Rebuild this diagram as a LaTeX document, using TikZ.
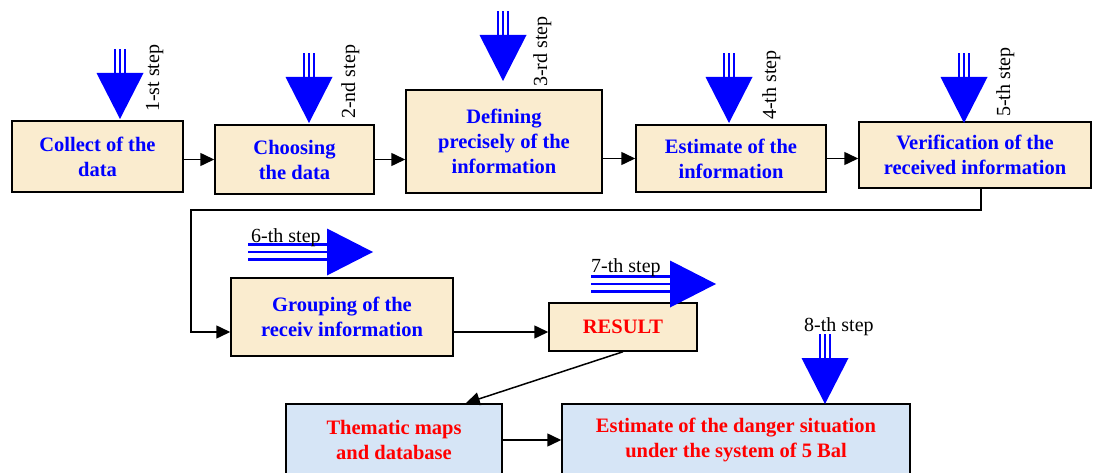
\documentclass[tikz,border=0pt]{standalone}
\usepackage{fontspec}
\setmainfont{Liberation Serif}
\usetikzlibrary{arrows.meta}
\definecolor{beige}{RGB}{250,236,207}
\definecolor{paleblue}{RGB}{214,229,246}
\tikzset{
  box/.style={draw, line width=1.5pt, fill=beige, text=blue, align=center, inner sep=0pt,
    font=\bfseries\fontsize{20.5}{25}\selectfont},
  mapbox/.style={box, fill=paleblue, text=red},
  conn/.style={line width=1.5pt, -{Triangle[length=14pt,width=13pt]}},
  steptext/.style={font=\fontsize{20}{24}\selectfont, inner sep=0pt},
  % gros fleche bleue vers le bas (pointe en (0,0))
  downstep/.pic={
    \fill[blue] (-23.5,-46) -- (23.5,-46) -- (0,0) -- cycle;
    \foreach \d in {-5,0,5} \draw[blue, line width=2.5pt] (\d,-45.5) -- (\d,-70);
  },
  % gros fleche bleue vers la droite
  rightstep/.pic={
    \fill[blue] (-46,-23.5) -- (-46,23.5) -- (0,0) -- cycle;
    \foreach \d in {-7.5,0,7.5} \draw[blue, line width=2.5pt] (-45.5,\d) -- (-125,\d);
  }
}
\begin{document}
\begin{tikzpicture}[x=1pt, y=-1pt]
    \useasboundingbox (0,0) rectangle (1094,473);
    \clip (0,0) rectangle (1094,473);

    % Premiere rangee
    \node[box, minimum width=171pt, minimum height=71pt] (collect) at (97.5,156.5) {Collect of the\\data};
    \node[box, minimum width=159pt, minimum height=69pt] (choosing) at (294.5,159.5) {Choosing\\the data};
    \node[box, minimum width=196pt, minimum height=103pt] (defining) at (504,141.5) {Defining\\precisely of the\\information};
    \node[box, minimum width=190pt, minimum height=67pt] (estimate) at (731,158.5) {Estimate of the\\information};
    \node[box, minimum width=232pt, minimum height=66pt] (verif) at (975,155) {Verification of the\\received information};

    \draw[conn] (collect.east |- choosing.west) -- (choosing.west);
    \draw[conn] (choosing.east) -- (choosing.east -| defining.west);
    \draw[conn] (defining.east |- estimate.west) -- (estimate.west);
    \draw[conn] (estimate.east) -- (estimate.east -| verif.west);

    % Etapes 1 a 5
    \pic (s1) at (120,119) {downstep};
    \pic (s2) at (309,123) {downstep};
    \pic (s3) at (503,81) {downstep};
    \pic (s4) at (729,123) {downstep};
    \pic (s5) at (964,123) {downstep};
    \node[steptext, rotate=90, anchor=base west] (l1) at (159,112) {1-st step};
    \node[steptext, rotate=90, anchor=base west] (l2) at (355,119) {2-nd step};
    \node[steptext, rotate=90, anchor=base west] (l3) at (547,87) {3-rd step};
    \node[steptext, rotate=90, anchor=base west] (l4) at (776,120) {4-th step};
    \node[steptext, rotate=90, anchor=base west] (l5) at (1010,117) {5-th step};

    % Deuxieme rangee
    \node[box, minimum width=222pt, minimum height=78pt] (grouping) at (342,317) {Grouping of the\\receiv information};
    \node[box, text=red, minimum width=148pt, minimum height=48pt] (result) at (623,327) {RESULT};

    \coordinate (fb) at (191,210);
    \draw[conn] ([xshift=6pt]verif.south) |- (fb) |- ([yshift=-15pt]grouping.west);
    \draw[conn] ([yshift=-15pt]grouping.east) -- ([yshift=-15pt]grouping.east -| result.west);

    \pic (s6) at (373,252) {rightstep};
    \pic (s7) at (716,284) {rightstep};
    \node[steptext, anchor=base west] (l6) at (251,242) {6-th step};
    \node[steptext, anchor=base west] (l7) at (591,272) {7-th step};

    % Troisieme rangee
    \node[mapbox, minimum width=216pt, minimum height=72pt] (thematic) at (394,440) {Thematic maps\\and database};
    \node[mapbox, minimum width=348pt, minimum height=72pt] (danger) at (736,440) {Estimate of the danger situation\\under the system of 5 Bal};

    \draw[conn] (result.south) -- ([xshift=-37pt]thematic.north east);
    \draw[conn] (thematic.east) -- (danger.west);

    \pic (s8) at (825,404) {downstep};
    \node[steptext, anchor=base west] (l8) at (804,331) {8-th step};
\end{tikzpicture}
\end{document}
